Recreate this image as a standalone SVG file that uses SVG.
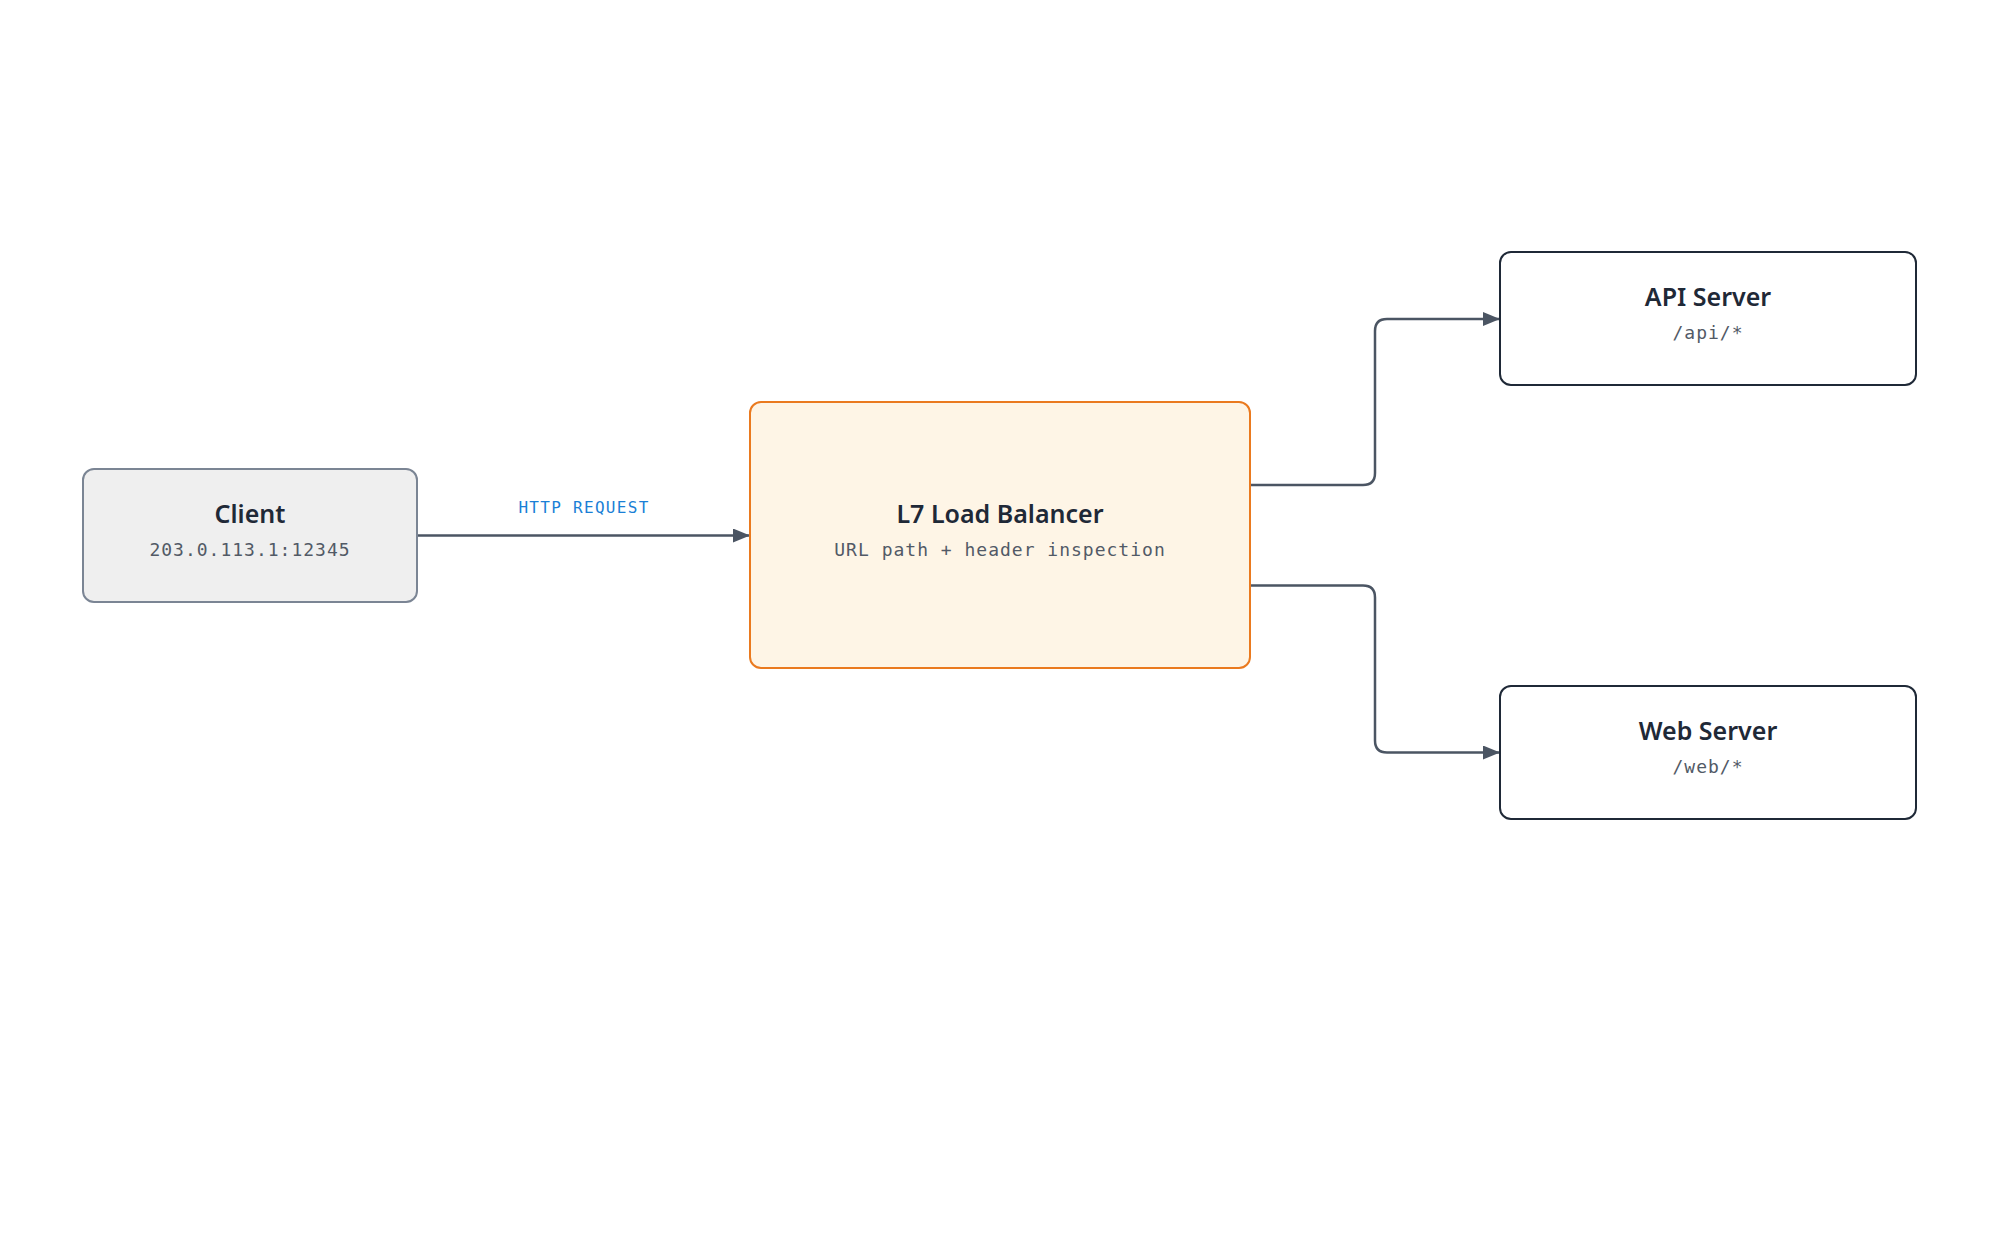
<svg xmlns="http://www.w3.org/2000/svg" width="2000" height="1252" viewBox="0 0 2000 1252">
<style>
.title{font-family:"Noto Sans","Open Sans",sans-serif;font-weight:600;font-size:25px;fill:#1f2937;text-anchor:middle}
.sub{font-family:"DejaVu Sans Mono","Liberation Mono",monospace;font-size:18px;letter-spacing:1px;fill:#525a66;text-anchor:middle}
.elabel{font-family:"DejaVu Sans Mono","Liberation Mono",monospace;font-size:16px;letter-spacing:1.3px;fill:#1a7fd6;text-anchor:middle}
.edge{fill:none;stroke:#4b5563;stroke-width:2.5}
</style>
<defs>
<marker id="arrow" viewBox="0 0 17 14" refX="17" refY="7" markerWidth="17" markerHeight="14" markerUnits="userSpaceOnUse" orient="auto">
<path d="M0,0 L17,7 L0,14 Z" fill="#4b5563"/>
</marker>
</defs>
<rect width="2000" height="1252" fill="#ffffff"/>
<g id="connectors">
<path class="edge" d="M417,535.5 L750,535.5" marker-end="url(#arrow)"/>
<text class="elabel" x="584" y="513">HTTP REQUEST</text>
<path class="edge" d="M1250,485 L1363,485 Q1375,485 1375,473 L1375,331 Q1375,319 1387,319 L1500,319" marker-end="url(#arrow)"/>
<path class="edge" d="M1250,585.5 L1363,585.5 Q1375,585.5 1375,597.5 L1375,740.5 Q1375,752.5 1387,752.5 L1500,752.5" marker-end="url(#arrow)"/>
</g>
<g id="client">
<rect x="83" y="469" width="334" height="133" rx="11" fill="#efefef" stroke="#7b8594" stroke-width="2"/>
<text class="title" x="250" y="523">Client</text>
<text class="sub" x="250" y="556">203.0.113.1:12345</text>
</g>
<g id="lb">
<rect x="750" y="402" width="500" height="266" rx="11" fill="#fef5e6" stroke="#ea7a1f" stroke-width="2"/>
<text class="title" x="1000" y="523">L7 Load Balancer</text>
<text class="sub" x="1000" y="556">URL path + header inspection</text>
</g>
<g id="api">
<rect x="1500" y="252" width="416" height="133" rx="11" fill="#ffffff" stroke="#1f2937" stroke-width="2"/>
<text class="title" x="1708" y="306">API Server</text>
<text class="sub" x="1708" y="339">/api/*</text>
</g>
<g id="web">
<rect x="1500" y="686" width="416" height="133" rx="11" fill="#ffffff" stroke="#1f2937" stroke-width="2"/>
<text class="title" x="1708" y="740">Web Server</text>
<text class="sub" x="1708" y="773">/web/*</text>
</g>
</svg>
